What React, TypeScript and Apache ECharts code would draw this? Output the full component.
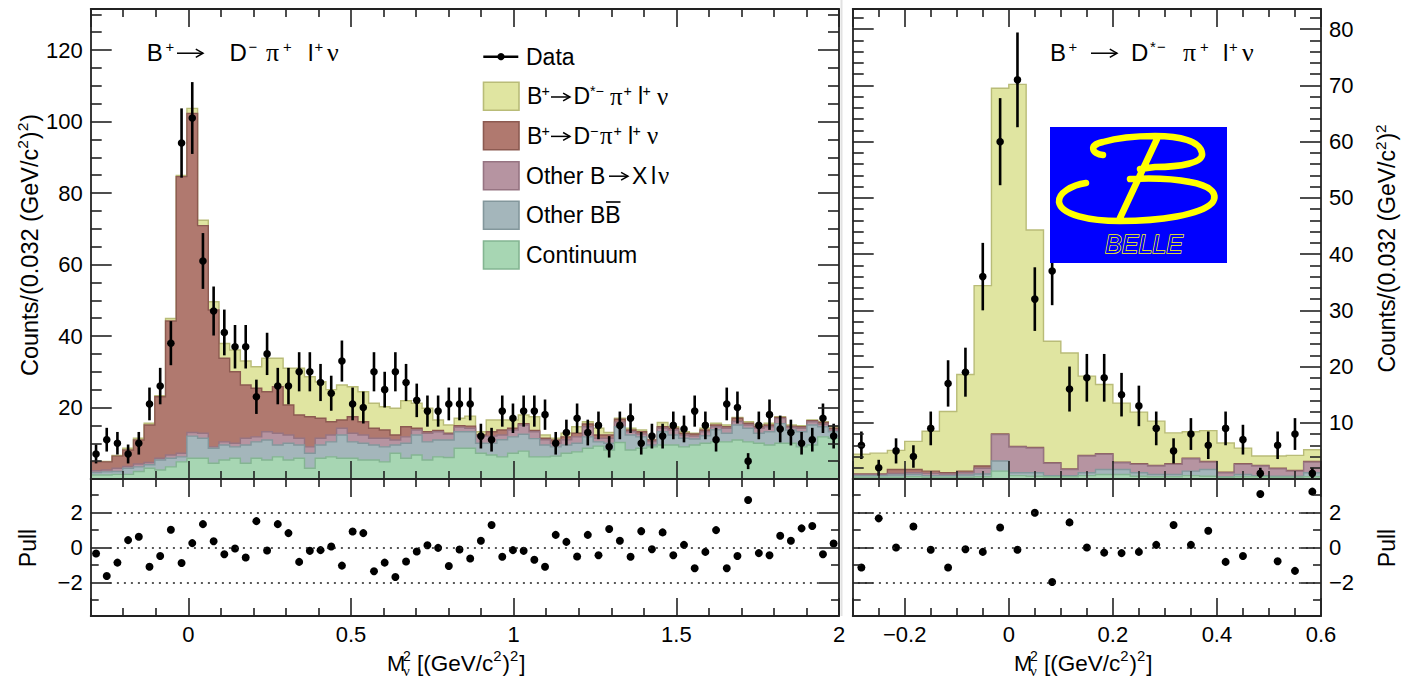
import React, { useEffect, useRef } from "react";
import * as echarts from "echarts";

const FONT = '"Liberation Sans", Arial, Helvetica, sans-serif';
const SERIF = '"Liberation Serif", "DejaVu Serif", serif';

// ---------------- binning ----------------
const LEFT_MIN = -0.3;
const LEFT_MAX = 2.0;
const LEFT_NBINS = 70;
const RIGHT_MIN = -0.3;
const RIGHT_MAX = 0.6;
const RIGHT_NBINS = 27;

// ---------------- left panel: B+ -> D- pi+ l+ nu ----------------
const leftCounts = [
  7, 11, 10, 7, 10, 21, 26, 38, 94, 101,
  61, 47, 41, 37, 37, 23, 35, 26, 26, 30,
  30, 27, 24, 33, 21, 20, 30, 25, 30, 27,
  22, 19, 19, 21, 21, 21, 12, 11, 19, 17,
  19, 19, 18, 10, 13, 17, 13, 15, 9, 15,
  17, 10, 12, 12, 15, 14, 19, 15, 11, 21,
  20, 5, 15, 18, 14, 13, 10, 11, 17, 12,
];
const leftContinuum = [
  1.1, 1.1, 1.3, 1.3, 2.1, 3.0, 2.5, 3.4, 4.8, 5.8,
  5.8, 4.4, 5.3, 5.8, 4.4, 5.8, 5.3, 6.2, 5.3, 5.8,
  3.0, 5.8, 6.2, 5.8, 5.8, 5.3, 5.3, 4.8, 7.2, 5.8,
  6.7, 5.3, 6.2, 6.0, 8.6, 8.6, 7.2, 6.7, 6.2, 7.2,
  7.8, 6.2, 6.2, 6.4, 7.2, 7.6, 8.6, 9.2, 8.1, 10.2,
  8.1, 8.6, 9.0, 9.5, 9.5, 9.0, 9.5, 10.0, 10.4, 10.4,
  10.9, 10.4, 10.0, 9.5, 10.0, 10.0, 9.0, 9.5, 11.8, 11.4,
];
const leftOtherBB = [
  0.7, 0.9, 0.8, 1.7, 1.3, 1.0, 2.8, 2.4, 1.4, 6.2,
  5.6, 4.2, 4.2, 3.2, 5.1, 4.6, 5.6, 3.3, 4.7, 3.7,
  4.2, 3.7, 4.2, 6.5, 4.6, 4.7, 4.2, 4.2, 2.3, 4.2,
  5.6, 5.1, 4.7, 4.9, 4.6, 4.6, 2.8, 3.3, 4.8, 4.6,
  4.7, 5.1, 3.3, 2.6, 2.3, 2.4, 3.2, 1.2, 1.9, 4.4,
  4.2, 3.2, 0.5, 3.7, 2.8, 2.4, 1.7, 2.1, 3.4, 2.4,
  4.2, 3.8, 2.8, 3.7, 5.5, 3.7, 4.2, 5.6, 2.8, 1.8,
];
const leftOtherXlnu = [
  0.5, 0.5, 0.9, 0.5, 0.8, 0.6, 0.5, 0.9, 1.0, 1.0,
  1.4, 0.4, 0.9, 1.0, 1.9, 1.4, 2.3, 3.3, 2.3, 1.9,
  1.8, 1.9, 1.9, 1.9, 2.4, 2.3, 1.9, 2.4, 1.4, 1.8,
  1.4, 2.4, 2.3, 1.6, 1.3, 1.0, 2.0, 2.0, 1.3, 1.9,
  2.6, 1.9, 1.5, 1.0, 1.5, 1.8, 2.8, 1.0, 1.4, 1.3,
  0.9, 0.8, 1.0, 1.0, 1.4, 0.9, 0.8, 1.1, 0.8, 1.4,
  1.0, 0.9, 1.4, 1.4, 1.4, 0.7, 1.0, 0.9, 0.7, 0.5,
];
const leftDPi = [
  2.5, 2.3, 3.4, 4.6, 6.7, 10.5, 17.2, 37.5, 77.4, 89.3,
  58.1, 38.3, 23.4, 20.0, 14.9, 13.6, 11.2, 13.0, 8.4, 6.5,
  8.4, 5.6, 3.7, 2.3, 4.6, 3.7, 2.8, 2.3, 1.4, 2.8,
  0.5, 0.4, 0.4, 0.3, 0.4, 0.6, 0.3, 1.2, 1.4, 0.5,
  0.4, 0.4, 0.4, 0.9, 0.8, 1.0, 0.8, 0.9, 0.9, 0.8,
  0.5, 0.6, 0.4, 0.4, 0.5, 0.5, 0.6, 0.5, 0.5, 0.4,
  0.9, 0.5, 0.4, 0.5, 0.3, 0.4, 0.4, 0.3, 0.5, 0.5,
];
const leftDstarPi = [
  0.0, 0.1, 0.2, 0.5, 0.5, 0.5, 0.3, 0.7, 0.3, 1.4,
  1.5, 2.3, 4.1, 6.1, 6.7, 6.0, 9.4, 8.0, 10.3, 13.1,
  11.2, 10.2, 9.0, 9.8, 8.4, 8.4, 7.0, 6.5, 7.5, 7.3,
  7.0, 6.6, 2.9, 2.3, 2.1, 2.8, 0.9, 3.3, 2.8, 2.3,
  2.4, 3.8, 0.9, 0.5, 1.0, 1.8, 0.6, 1.9, 0.7, 0.3,
  0.5, 0.5, 0.2, 1.2, 0.4, 0.4, 0.2, 0.5, 0.5, 0.5,
  0.2, 0.4, 0.5, 0.5, 0.2, 0.3, 0.3, 0.2, 0.2, 0.4,
];
const leftPull = [
  -0.34, -1.62, -0.86, 0.42, 0.61, -1.10, -0.48, 1.01, -0.88, 0.25,
  1.33, 0.36, -0.38, -0.06, -0.57, 1.50, -0.17, 1.33, 0.82, -0.82,
  -0.19, -0.15, 0.06, -1.03, 0.91, 0.82, -1.35, -0.86, -1.68, -0.80,
  -0.23, 0.13, -0.02, -1.05, -0.11, -0.63, 0.38, 1.28, -0.53, -0.15,
  -0.19, -0.70, -1.10, 0.72, 0.32, -0.51, 0.72, -0.44, 1.05, 0.38,
  -0.53, 0.93, -0.10, 0.86, -0.44, 0.15, -1.18, -0.25, 0.99, -1.18,
  -0.48, 2.70, -0.32, -0.44, 0.67, 0.38, 1.09, 1.22, -0.38, 0.23,
];

// ---------------- right panel: B+ -> D*- pi+ l+ nu ----------------
const rightCounts = [6, 2, 5, 4, 9, 17, 19, 36, 60, 71, 32, 37, 16, 18, 18, 15, 13, 9, 5, 8, 6, 9, 7, 1, 6, 8, 1];
const rightContinuum = [0.3, 0.3, 0.3, 0.4, 0.3, 0.3, 0.3, 0.4, 1.4, 0.6, 0.5, 0.4, 0.4, 0.6, 0.8, 0.8, 0.5, 0.4, 0.4, 0.6, 0.5, 0.3, 0.4, 0.4, 0.3, 0.3, 0.4];
const rightOtherBB = [0.3, 0.3, 0.4, 0.4, 0.3, 0.3, 0.4, 0.5, 1.8, 0.5, 0.6, 0.2, 0.2, 0.5, 0.9, 0.9, 0.6, 0.4, 0.4, 0.8, 1.2, 0.1, 0.4, 0.2, 0.2, 0.2, 0.7];
const rightOtherXlnu = [0.2, 0.2, 0.3, 0.3, 0.4, 0.3, 0.4, 1.0, 4.7, 4.6, 4.4, 2.2, 1.1, 3.0, 2.7, 1.2, 1.5, 1.5, 1.8, 2.2, 1.3, 0.7, 1.8, 1.7, 1.3, 0.9, 1.9];
const rightDPi = [0.1, 0.1, 0.7, 0.6, 0.4, 0.2, 0.3, 0.4, 0.1, 0.1, 0.1, 0.1, 0.1, 0.1, 0.1, 0.1, 0.1, 0.1, 0.1, 0.1, 0.1, 0.1, 0.1, 0.1, 0.1, 0.1, 0.1];
const rightDstarPi = [3.5, 3.7, 3.4, 5.0, 7.1, 10.9, 17.2, 32.1, 61.5, 64.4, 38.7, 21.6, 20.6, 14.1, 12.3, 10.5, 9.2, 7.9, 5.5, 4.7, 5.5, 5.2, 2.8, 1.7, 2.2, 2.7, 2.1];
const rightPull = [-1.14, 1.66, 0.0, 1.2, -0.13, -1.14, -0.1, -0.25, 1.14, -0.13, 1.98, -1.96, 1.43, 0.0, -0.29, -0.32, -0.25, 0.15, 1.28, 0.15, 0.95, -0.82, -0.48, 3.05, -0.78, -1.33, 3.18];

// axis ranges
const LEFT_YMAX = 131.5;
const RIGHT_YMAX = 83.6;
const PULL_RANGE = 3.9;
const PULL_LINES = [-2, 0, 2];

// component styles, stacking order bottom -> top
const COMP = [
  { name: "Continuum", fill: "#A7D6B3", stroke: "#84B592" },
  { name: "Other BB", fill: "#A4B6BB", stroke: "#83979C" },
  { name: "Other B → X l ν", fill: "#B694A1", stroke: "#967482" },
  { name: "B+ → D− π+ l+ ν", fill: "#B0796F", stroke: "#8C5A51" },
  { name: "B+ → D*− π+ l+ ν", fill: "#E0E5A1", stroke: "#B9BC78" },
];

function cumulative(parts: number[][]): number[][] {
  const out: number[][] = [];
  let run = parts[0].map(() => 0);
  for (const p of parts) {
    run = run.map((v, i) => v + p[i]);
    out.push(run);
  }
  return out;
}

const LINE = { color: "#222", width: 1.8 };
const TICK = { color: "#222", width: 1.6 };
const fmt = (v: number) => String(v).replace("-", "\u2212");

function xAx(grid: number, min: number, max: number, position: string, split: number, minorSplit: number, labels: boolean) {
  return {
    type: "value",
    gridIndex: grid,
    min,
    max,
    position,
    splitNumber: split,
    z: 10,
    axisLine: { show: true, onZero: false, lineStyle: LINE },
    axisTick: { show: true, inside: true, length: 18, lineStyle: TICK },
    minorTick: { show: true, splitNumber: minorSplit, length: 8, lineStyle: TICK },
    splitLine: { show: false },
    minorSplitLine: { show: false },
    axisLabel: labels
      ? { show: true, showMinLabel: false, showMaxLabel: true, margin: 7, fontSize: 22, fontFamily: FONT, color: "#000", formatter: fmt }
      : { show: false },
  };
}

function yAx(grid: number, min: number, max: number, position: string, split: number, minorSplit: number, labels: boolean, major: number, minor: number) {
  return {
    type: "value",
    gridIndex: grid,
    min,
    max,
    position,
    splitNumber: split,
    z: 10,
    axisLine: { show: true, onZero: false, lineStyle: LINE },
    axisTick: { show: true, inside: true, length: major, lineStyle: TICK },
    minorTick: { show: true, splitNumber: minorSplit, length: minor, lineStyle: TICK },
    splitLine: { show: false },
    minorSplitLine: { show: false },
    axisLabel: labels
      ? { show: true, showMinLabel: false, showMaxLabel: false, margin: 8, fontSize: 22, fontFamily: FONT, color: "#000", formatter: fmt }
      : { show: false },
  };
}

function stackPolygon(cum: number[], xMin: number, binW: number, xIdx: number, yIdx: number, fill: string, stroke: string) {
  return {
    type: "custom",
    xAxisIndex: xIdx,
    yAxisIndex: yIdx,
    silent: true,
    clip: true,
    data: [[xMin, 0]],
    renderItem: (_p: any, api: any) => {
      const pts: number[][] = [api.coord([xMin, 0])];
      cum.forEach((v, i) => {
        pts.push(api.coord([xMin + i * binW, v]));
        pts.push(api.coord([xMin + (i + 1) * binW, v]));
      });
      pts.push(api.coord([xMin + cum.length * binW, 0]));
      return { type: "polygon", shape: { points: pts }, style: { fill, stroke, lineWidth: 1.4 } };
    },
  };
}

function dataSeries(counts: number[], xMin: number, binW: number, xIdx: number, yIdx: number) {
  return {
    type: "custom",
    xAxisIndex: xIdx,
    yAxisIndex: yIdx,
    silent: true,
    clip: true,
    // Poisson (sqrt N) error bars, as in the original plot
    data: counts.map((c, i) => [xMin + (i + 0.5) * binW, c, Math.sqrt(c)]),
    renderItem: (_p: any, api: any) => {
      const x = api.value(0);
      const y = api.value(1);
      const e = api.value(2);
      const c = api.coord([x, y]);
      const lo = api.coord([x, y - e]);
      const hi = api.coord([x, y + e]);
      return {
        type: "group",
        children: [
          { type: "line", shape: { x1: c[0], y1: lo[1], x2: c[0], y2: hi[1] }, style: { stroke: "#000", lineWidth: 2.6 } },
          { type: "circle", shape: { cx: c[0], cy: c[1], r: 3.8 }, style: { fill: "#000" } },
        ],
      };
    },
  };
}

function pullSeries(pulls: number[], xMin: number, binW: number, xIdx: number, yIdx: number, lx0: number, lx1: number) {
  return {
    type: "scatter",
    xAxisIndex: xIdx,
    yAxisIndex: yIdx,
    silent: true,
    symbol: "circle",
    symbolSize: 8,
    itemStyle: { color: "#000", opacity: 1 },
    data: pulls.map((p, i) => [xMin + (i + 0.5) * binW, p]),
    markLine: {
      silent: true,
      symbol: ["none", "none"],
      label: { show: false },
      lineStyle: { color: "#222", width: 1.6, type: [2, 5], opacity: 1 },
      data: PULL_LINES.map((v) => [{ coord: [lx0, v] }, { coord: [lx1, v] }]),
    },
  };
}

// text pieces at given x positions: n normal, s superscript, g greek, a = arrow (x = start, 4th = length)
type Piece = [string, number, string, number?];
function latex(pieces: Piece[], y: number, size: number): any[] {
  const out: any[] = [];
  pieces.forEach(([t, x, k, len]) => {
    if (k === "a") {
      const L = len || size;
      const ay = y + size * 0.03;
      out.push({ type: "line", z: 100, silent: true, shape: { x1: x, y1: ay, x2: x + L, y2: ay }, style: { stroke: "#000", lineWidth: 1.5 } });
      out.push({
        type: "polyline",
        z: 100,
        silent: true,
        shape: { points: [[x + L - size * 0.3, ay - size * 0.17], [x + L, ay], [x + L - size * 0.3, ay + size * 0.17]] },
        style: { stroke: "#000", lineWidth: 1.5, fill: "none" },
      });
      return;
    }
    let fs = size;
    let fam = FONT;
    let dy = 0;
    if (k === "s") {
      fs = size * 0.62;
      dy = -size * 0.22;
    }
    if (k === "g") {
      fam = SERIF;
      fs = size * 1.08;
    }
    out.push({
      type: "text",
      x,
      y: y + dy,
      z: 100,
      silent: true,
      style: { text: t, fontSize: fs, fontFamily: fam, fill: "#000", align: "left", verticalAlign: "middle" },
    });
  });
  return out;
}

// sequential text with measured widths (n normal, s superscript), optionally rotated
let measureCtx: any = null;
function textW(t: string, size: number): number {
  if (!measureCtx) measureCtx = document.createElement("canvas").getContext("2d");
  measureCtx.font = `${size}px ${FONT}`;
  return measureCtx.measureText(t).width;
}
function seqGroup(parts: [string, string][], size: number, x: number, y: number, rotation: number, center: boolean) {
  const children: any[] = [];
  let cx = 0;
  for (const [t, k] of parts) {
    const fs = k === "s" ? size * 0.66 : size;
    const dy = k === "s" ? -size * 0.3 : 0;
    children.push({
      type: "text",
      x: cx,
      y: dy,
      z: 100,
      silent: true,
      style: { text: t, fontSize: fs, fontFamily: FONT, fill: "#000", align: "left", verticalAlign: "middle" },
    });
    cx += textW(t, fs) + (k === "s" ? 1 : 0);
  }
  if (center) children.forEach((c) => (c.x -= cx / 2));
  return { type: "group", x, y, rotation, z: 100, silent: true, children };
}

const BELLE_B =
  "M53 28 C42 27 38 18 53 15 C70 10 90 9 105 9 C130 9 150 14 152 26 C154 36 130 40 105 40 L90 42 " +
  "M36 56 C22 58 8 66 9 75 C11 88 40 94 70 94 C110 94 150 88 162 76 C170 66 158 58 140 55 C120 51 100 51 80 52 " +
  "M107 12 L70 91";

let shapeRegistered = false;

export default function App() {
  const ref = useRef<HTMLDivElement>(null);

  useEffect(() => {
    if (!ref.current) return;
    if (!shapeRegistered) {
      echarts.graphic.registerShape("belleB", echarts.graphic.extendPath(BELLE_B, {}));
      shapeRegistered = true;
    }
    const chart = echarts.init(ref.current, null, { renderer: "svg" });

    const lw = (LEFT_MAX - LEFT_MIN) / LEFT_NBINS;
    const rw = (RIGHT_MAX - RIGHT_MIN) / RIGHT_NBINS;
    const leftCum = cumulative([leftContinuum, leftOtherBB, leftOtherXlnu, leftDPi, leftDstarPi]);
    const rightCum = cumulative([rightContinuum, rightOtherBB, rightOtherXlnu, rightDPi, rightDstarPi]);

    const series: any[] = [];
    for (let k = 4; k >= 0; k--) series.push(stackPolygon(leftCum[k], LEFT_MIN, lw, 0, 0, COMP[k].fill, COMP[k].stroke));
    series.push(dataSeries(leftCounts, LEFT_MIN, lw, 0, 0));
    series.push(pullSeries(leftPull, LEFT_MIN, lw, 2, 2, -0.241, 1.951));
    for (let k = 4; k >= 0; k--) series.push(stackPolygon(rightCum[k], RIGHT_MIN, rw, 4, 4, COMP[k].fill, COMP[k].stroke));
    series.push(dataSeries(rightCounts, RIGHT_MIN, rw, 4, 4));
    series.push(pullSeries(rightPull, RIGHT_MIN, rw, 6, 6, -0.29, 0.588));

    const g: any[] = [];
    // separator
    g.push({ type: "line", z: 100, silent: true, shape: { x1: 841.5, y1: 0, x2: 841.5, y2: 616 }, style: { stroke: "#e2e2e2", lineWidth: 2 } });
    // titles
    g.push(
      ...latex(
        [["B", 146.7, "n"], ["+", 165.5, "s"], ["", 177, "a", 26], ["D", 229.5, "n"], ["−", 248.5, "s"], ["π", 266, "g"], ["+", 283, "s"], ["l", 308, "n"], ["+", 314.5, "s"], ["ν", 327, "g"]],
        52.5,
        24
      )
    );
    g.push(
      ...latex(
        [["B", 1050, "n"], ["+", 1068.5, "s"], ["", 1091, "a", 26], ["D", 1131, "n"], ["*", 1150, "s"], ["−", 1157, "s"], ["π", 1183, "g"], ["+", 1200, "s"], ["l", 1223, "n"], ["+", 1229, "s"], ["ν", 1242, "g"]],
        52.5,
        24
      )
    );
    // legend
    g.push({ type: "line", z: 100, silent: true, shape: { x1: 483.3, y1: 56.7, x2: 518.3, y2: 56.7 }, style: { stroke: "#000", lineWidth: 2.5 } });
    g.push({ type: "circle", z: 100, silent: true, shape: { cx: 501, cy: 56.7, r: 3.6 }, style: { fill: "#000" } });
    g.push(...latex([["Data", 526, "n"]], 56.7, 23));
    const boxTops = [82.3, 121.7, 161.7, 201.3, 241];
    const boxComp = [4, 3, 2, 1, 0];
    boxTops.forEach((t, j) => {
      const c = COMP[boxComp[j]];
      g.push({ type: "rect", z: 100, silent: true, shape: { x: 483.5, y: t, width: 35.5, height: 28 }, style: { fill: c.fill, stroke: c.stroke, lineWidth: 1.6 } });
    });
    g.push(
      ...latex(
        [["B", 527, "n"], ["+", 541.5, "s"], ["", 551, "a", 19], ["D", 573.5, "n"], ["*", 590, "s"], ["−", 595.5, "s"], ["π", 610, "g"], ["+", 623.5, "s"], ["l", 638, "n"], ["+", 642.5, "s"], ["ν", 657, "g"]],
        96.3,
        23
      )
    );
    g.push(
      ...latex(
        [["B", 527, "n"], ["+", 541.5, "s"], ["", 551, "a", 19], ["D", 573.5, "n"], ["−", 590, "s"], ["π", 600, "g"], ["+", 613.5, "s"], ["l", 628, "n"], ["+", 632.5, "s"], ["ν", 647, "g"]],
        135.7,
        23
      )
    );
    g.push(...latex([["Other B", 526, "n"], ["", 609, "a", 19], ["X", 632, "n"], ["l", 651, "n"], ["ν", 658, "g"]], 175.5, 23));
    g.push(...latex([["Other BB", 526, "n"]], 215.3, 23));
    g.push({ type: "line", z: 100, silent: true, shape: { x1: 606, y1: 202, x2: 620.5, y2: 202 }, style: { stroke: "#000", lineWidth: 1.6 } });
    g.push(...latex([["Continuum", 526, "n"]], 255, 23));

    // x-axis titles
    const xTitle = (x0: number) => [
      ...latex([["M", x0, "n"]], 663, 22),
      { type: "text", x: x0 + 16, y: 655.5, z: 100, silent: true, style: { text: "2", fontSize: 14, fontFamily: FONT, fill: "#000", align: "left", verticalAlign: "middle" } },
      { type: "text", x: x0 + 16, y: 671, z: 100, silent: true, style: { text: "ν", fontSize: 15, fontFamily: SERIF, fill: "#000", align: "left", verticalAlign: "middle" } },
      seqGroup([["[(GeV/c", "n"], ["2", "s"], [")", "n"], ["2", "s"], ["]", "n"]], 22.5, x0 + 30, 663, 0, false),
    ];
    g.push(...xTitle(387));
    g.push(...xTitle(1014));

    // y-axis titles
    g.push(seqGroup([["Counts/(0.032 (GeV/c", "n"], ["2", "s"], [")", "n"], ["2", "s"], [")", "n"]], 23.5, 30, 245, Math.PI / 2, true));
    g.push(seqGroup([["Counts/(0.032 (GeV/c", "n"], ["2", "s"], [")", "n"], ["2", "s"]], 23, 1387, 248, Math.PI / 2, true));
    g.push(seqGroup([["Pull", "n"]], 23, 28, 548, Math.PI / 2, true));
    g.push(seqGroup([["Pull", "n"]], 23, 1387, 548, Math.PI / 2, true));

    // Belle logo
    g.push({ type: "rect", z: 100, silent: true, shape: { x: 1050, y: 127, width: 177, height: 136 }, style: { fill: "#0000FF" } });
    g.push({ type: "belleB", z: 101, silent: true, x: 1050, y: 127, style: { fill: "none", stroke: "#FFFF00", lineWidth: 6.5, lineCap: "round", lineJoin: "round" } });
    g.push({
      type: "text",
      z: 101,
      silent: true,
      x: 1144,
      y: 244,
      style: { text: "BELLE", fontSize: 25, fontStyle: "italic", fontFamily: FONT, fill: "#0000FF", stroke: "#FFFF00", lineWidth: 1.4, align: "center", verticalAlign: "middle" },
    });

    const option: any = {
      animation: false,
      backgroundColor: "#fff",
      grid: [
        { left: 90.7, top: 9, width: 748.3, height: 470, containLabel: false, outerBoundsMode: "none" },
        { left: 90.7, top: 479, width: 748.3, height: 137, containLabel: false, outerBoundsMode: "none" },
        { left: 852.7, top: 9, width: 468.3, height: 470, containLabel: false, outerBoundsMode: "none" },
        { left: 852.7, top: 479, width: 468.3, height: 137, containLabel: false, outerBoundsMode: "none" },
      ],
      xAxis: [
        xAx(0, LEFT_MIN, LEFT_MAX, "bottom", 5, 5, false),
        xAx(0, LEFT_MIN, LEFT_MAX, "top", 5, 5, false),
        xAx(1, LEFT_MIN, LEFT_MAX, "bottom", 5, 5, true),
        xAx(1, LEFT_MIN, LEFT_MAX, "top", 5, 5, false),
        xAx(2, RIGHT_MIN, RIGHT_MAX, "bottom", 5, 4, false),
        xAx(2, RIGHT_MIN, RIGHT_MAX, "top", 5, 4, false),
        xAx(3, RIGHT_MIN, RIGHT_MAX, "bottom", 5, 4, true),
        xAx(3, RIGHT_MIN, RIGHT_MAX, "top", 5, 4, false),
      ],
      yAxis: [
        yAx(0, 0, LEFT_YMAX, "left", 6, 4, true, 21, 11),
        yAx(0, 0, LEFT_YMAX, "right", 6, 4, false, 21, 11),
        yAx(1, -PULL_RANGE, PULL_RANGE, "left", 4, 2, true, 20, 8),
        yAx(1, -PULL_RANGE, PULL_RANGE, "right", 4, 2, false, 20, 8),
        yAx(2, 0, RIGHT_YMAX, "left", 8, 5, false, 21, 11),
        yAx(2, 0, RIGHT_YMAX, "right", 8, 5, true, 21, 11),
        yAx(3, -PULL_RANGE, PULL_RANGE, "left", 4, 2, false, 20, 8),
        yAx(3, -PULL_RANGE, PULL_RANGE, "right", 4, 2, true, 20, 8),
      ],
      series,
      graphic: { elements: g },
    };
    chart.setOption(option);
    return () => chart.dispose();
  }, []);

  return <div ref={ref} style={{ position: "fixed", left: 0, top: 0, width: 1401, height: 681, background: "#fff" }} />;
}
